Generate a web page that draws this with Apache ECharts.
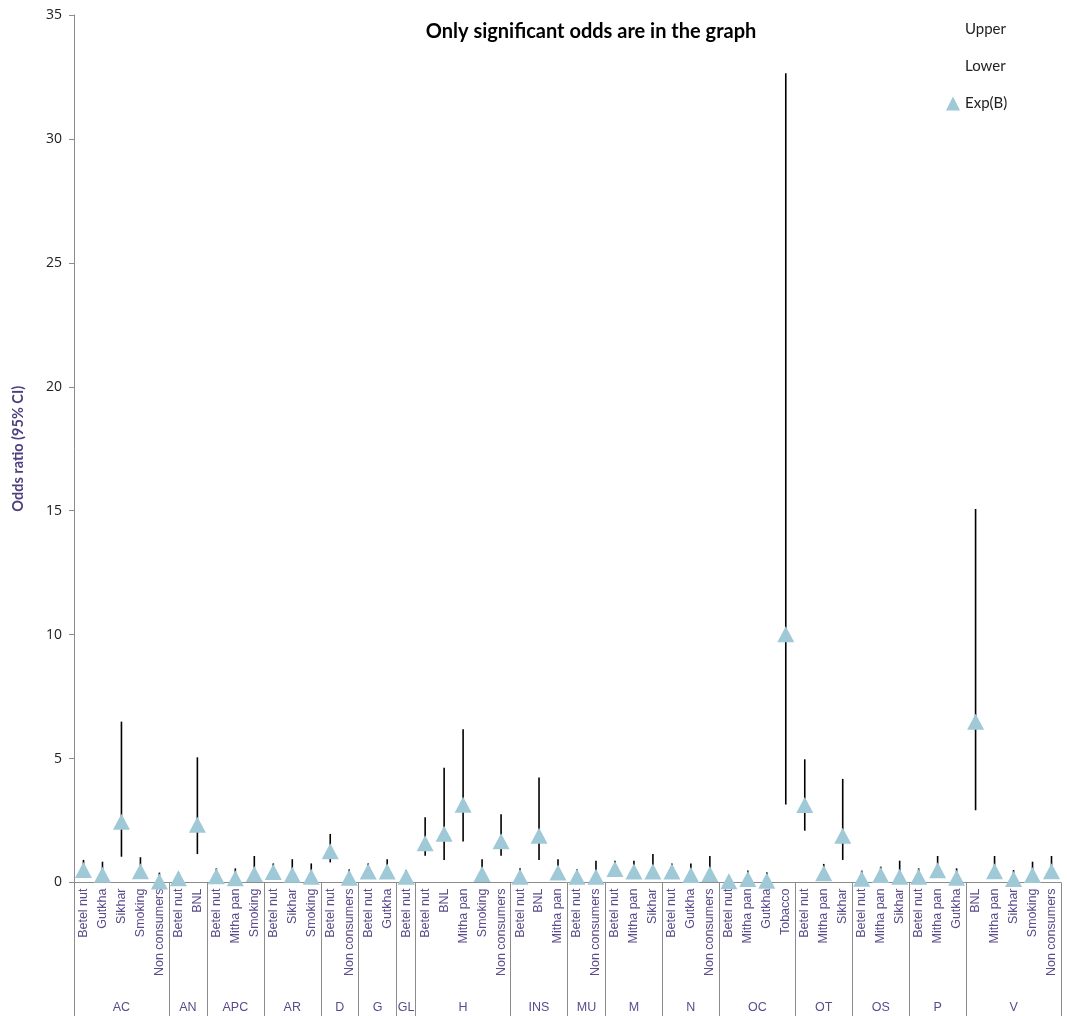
<!DOCTYPE html>
<html>
<head>
<meta charset="utf-8">
<script src="https://cdn.jsdelivr.net/npm/echarts@6/dist/echarts.min.js"></script>
<style>html,body{margin:0;padding:0;background:#fff;}#c{width:1067px;height:1016px;}</style>
</head>
<body>
<div id="c"></div>
<script>
var groupNames = ['AC','AN','APC','AR','D','G','GL','H','INS','MU','M','N','OC','OT','OS','P','V'];
var groupSizes = [5,2,3,3,2,2,1,5,3,2,3,3,4,3,3,3,5];
var categories = [
 'Betel nut','Gutkha','Sikhar','Smoking','Non consumers',
 'Betel nut','BNL',
 'Betel nut','Mitha pan','Smoking',
 'Betel nut','Sikhar','Smoking',
 'Betel nut','Non consumers',
 'Betel nut','Gutkha',
 'Betel nut',
 'Betel nut','BNL','Mitha pan','Smoking','Non consumers',
 'Betel nut','BNL','Mitha pan',
 'Betel nut','Non consumers',
 'Betel nut','Mitha pan','Sikhar',
 'Betel nut','Gutkha','Non consumers',
 'Betel nut','Mitha pan','Gutkha','Tobacco',
 'Betel nut','Mitha pan','Sikhar',
 'Betel nut','Mitha pan','Sikhar',
 'Betel nut','Mitha pan','Gutkha',
 'BNL','Mitha pan','Sikhar','Smoking','Non consumers'
];
var expB = [
 0.50,0.31,2.45,0.45,0.04,
 0.17,2.33,
 0.25,0.17,0.34,
 0.42,0.31,0.23,
 1.26,0.19,
 0.44,0.44,
 0.23,
 1.58,1.97,3.14,0.34,1.66,
 0.23,1.89,0.40,
 0.23,0.23,
 0.54,0.44,0.44,
 0.44,0.30,0.34,
 0.05,0.14,0.07,10.02,
 3.13,0.37,1.89,
 0.15,0.30,0.23,
 0.23,0.49,0.19,
 6.49,0.45,0.14,0.30,0.45
];
var upper = [
 0.91,0.84,6.49,1.02,0.40,
 0.40,5.05,
 0.57,0.57,1.07,
 0.77,0.94,0.77,
 1.96,0.53,
 0.77,0.94,
 0.50,
 2.63,4.63,6.18,0.94,2.75,
 0.57,4.24,0.94,
 0.53,0.88,
 0.88,0.88,1.15,
 0.77,0.77,1.07,
 0.30,0.48,0.41,32.65,
 4.97,0.75,4.18,
 0.48,0.64,0.88,
 0.57,1.07,0.57,
 15.07,1.07,0.50,0.84,1.07
];
var lower = [
 0.25,0.12,1.04,0.20,0.01,
 0.07,1.15,
 0.11,0.05,0.11,
 0.23,0.10,0.07,
 0.81,0.07,
 0.25,0.21,
 0.10,
 1.08,0.91,1.65,0.12,1.08,
 0.09,0.91,0.17,
 0.10,0.06,
 0.33,0.22,0.17,
 0.25,0.12,0.11,
 0.01,0.04,0.01,3.15,
 2.09,0.18,0.91,
 0.05,0.14,0.06,
 0.09,0.22,0.06,
 2.92,0.19,0.04,0.11,0.19
];
var yTicks = {min: 0, max: 35, interval: 5};

var boundaries = [0], mids = [], midName = {};
groupSizes.forEach(function (s, i) {
  var start = boundaries[boundaries.length - 1];
  boundaries.push(start + s);
  var m = start + s / 2;
  mids.push(m);
  midName[m] = groupNames[i];
});

var purple = '#5b4b8b';
var chart = echarts.init(document.getElementById('c'));
chart.setOption({
  animation: false,
  backgroundColor: '#fff',
  title: {
    text: 'Only significant odds are in the graph',
    left: 586, top: 17, textAlign: 'center',
    textStyle: {fontFamily: 'Lato', fontWeight: 'bold', fontSize: 20, color: '#000'}
  },
  legend: {
    orient: 'vertical', left: 941, top: 17,
    itemWidth: 14, itemHeight: 14, itemGap: 22,
    textStyle: {fontFamily: 'Lato', fontSize: 15, color: '#222'},
    data: [
      {name: 'Upper', icon: 'rect', itemStyle: {opacity: 0}},
      {name: 'Lower', icon: 'rect', itemStyle: {opacity: 0}},
      {name: 'Exp(B)', icon: 'triangle'}
    ]
  },
  grid: {left: 74, right: 6, top: 15, bottom: 133.5, containLabel: false},
  xAxis: [{
    type: 'category', data: categories, boundaryGap: true,
    axisLine: {show: true, lineStyle: {color: '#8c8c8c', width: 1}},
    axisTick: {show: false},
    axisLabel: {interval: 0, rotate: 90, margin: 6, fontFamily: 'Liberation Sans', fontSize: 12.5, color: purple}
  }, {
    type: 'value', min: 0, max: 52, position: 'bottom',
    axisLine: {show: false}, splitLine: {show: false},
    axisTick: {show: true, customValues: boundaries, length: 140, lineStyle: {color: '#8c8c8c', width: 1}},
    axisLabel: {show: true, customValues: mids, margin: 119, fontFamily: 'Liberation Sans', fontSize: 12.5, color: purple,
      formatter: function (v) { return midName[v] || ''; }}
  }],
  yAxis: {
    type: 'value', min: yTicks.min, max: yTicks.max, interval: yTicks.interval,
    name: 'Odds ratio (95% CI)', nameLocation: 'middle', nameGap: 48, nameRotate: 90,
    nameTextStyle: {fontFamily: 'Lato', fontWeight: 'bold', fontSize: 14.5, color: '#4f3f7f'},
    axisLine: {show: true, lineStyle: {color: '#8c8c8c'}},
    axisTick: {show: true, length: 5, lineStyle: {color: '#8c8c8c'}},
    splitLine: {show: false},
    axisLabel: {fontFamily: 'Open Sans', fontSize: 14, color: '#222', margin: 12}
  },
  series: [
    {name: 'Upper', type: 'line', data: upper, symbol: 'none', lineStyle: {opacity: 0}, itemStyle: {color: '#000'}, silent: true},
    {name: 'Lower', type: 'line', data: lower, symbol: 'none', lineStyle: {opacity: 0}, itemStyle: {color: '#000'}, silent: true},
    {
      name: 'hilo', type: 'custom', z: 2,
      data: categories.map(function (c, i) { return [i, lower[i], upper[i]]; }),
      renderItem: function (params, api) {
        var p1 = api.coord([api.value(0), api.value(1)]);
        var p2 = api.coord([api.value(0), api.value(2)]);
        return {type: 'line', shape: {x1: p1[0], y1: p1[1], x2: p2[0], y2: p2[1]},
          style: {stroke: '#000', lineWidth: 1.6}};
      }
    },
    {
      name: 'Exp(B)', type: 'scatter', z: 3, data: expB,
      symbol: 'triangle', symbolSize: [17, 16],
      itemStyle: {color: '#9fc9d6', opacity: 1}
    }
  ]
});
</script>
</body>
</html>
